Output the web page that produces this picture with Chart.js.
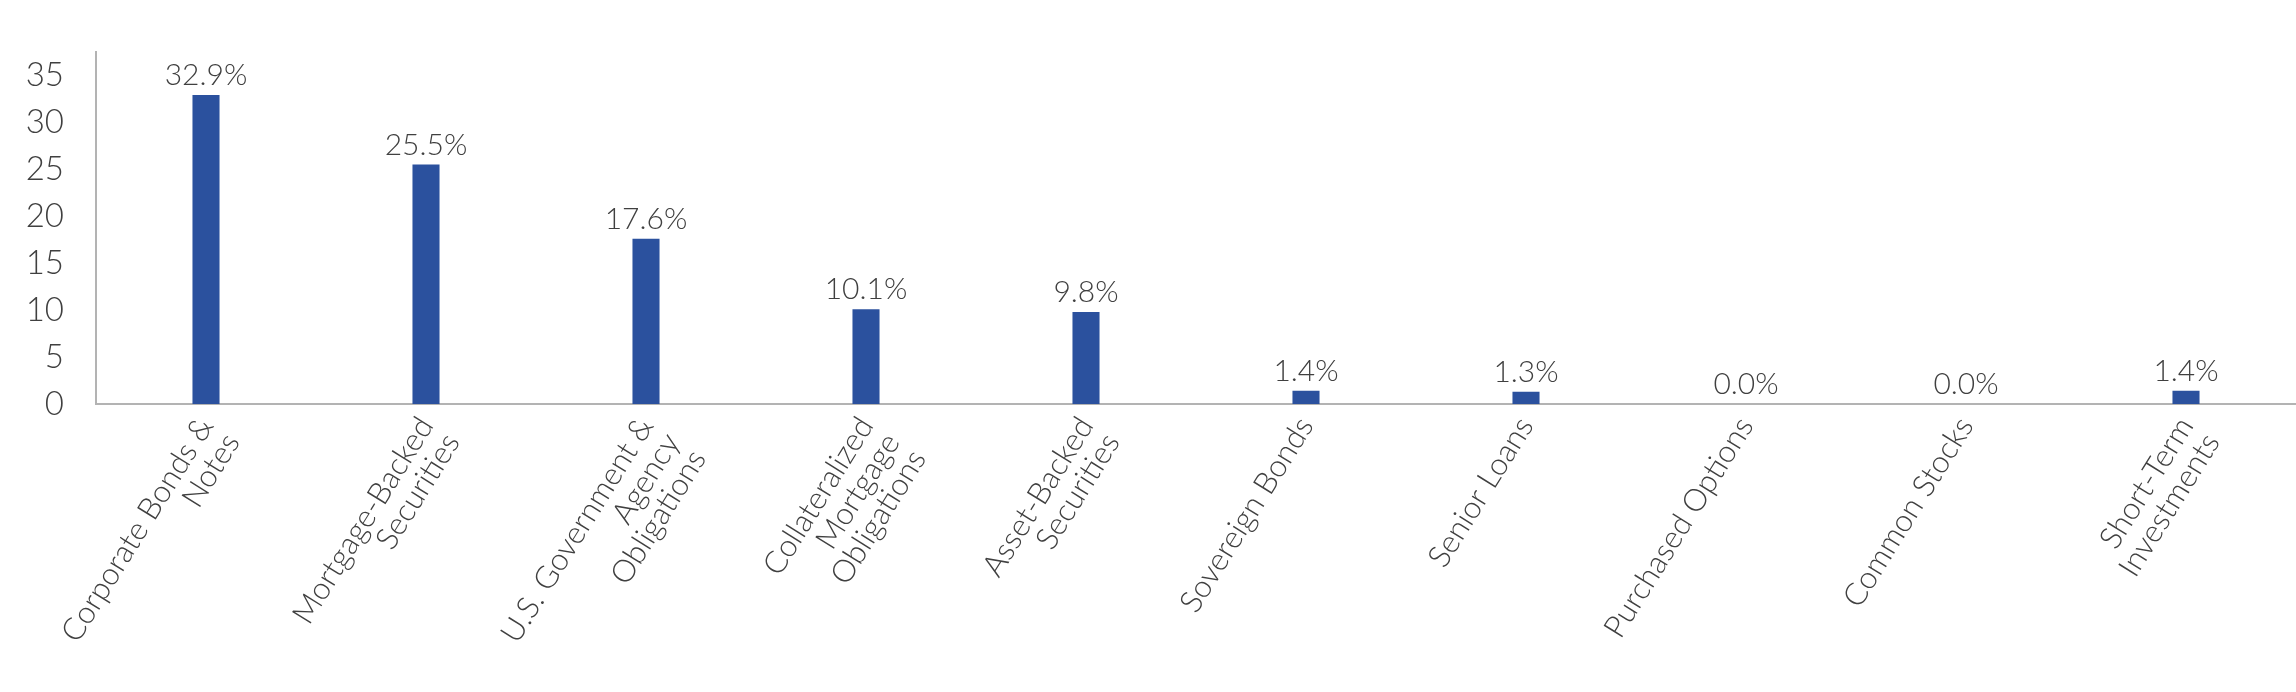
<!DOCTYPE html>
<html>
<head>
<meta charset="utf-8">
<script src="https://cdn.jsdelivr.net/npm/chart.js@4/dist/chart.umd.min.js"></script>
<style>
  html, body { margin: 0; padding: 0; background: #ffffff; }
  #wrap { width: 2296px; height: 692px; }
</style>
</head>
<body>
<div id="wrap"><canvas id="c" width="2296" height="692"></canvas></div>
<script>
const categories = [
  ["Corporate Bonds &", "Notes"],
  ["Mortgage-Backed", "Securities"],
  ["U.S. Government &", "Agency", "Obligations"],
  ["Collateralized", "Mortgage", "Obligations"],
  ["Asset-Backed", "Securities"],
  "Sovereign Bonds",
  "Senior Loans",
  "Purchased Options",
  "Common Stocks",
  ["Short-Term", "Investments"]
];
const values = [32.9, 25.5, 17.6, 10.1, 9.8, 1.4, 1.3, 0.0, 0.0, 1.4];
const yTicks = [0, 5, 10, 15, 20, 25, 30, 35];

const FONT = "Lato, 'Open Sans', sans-serif";
const TEXT = "#404040";

const barLabels = {
  id: 'barLabels',
  afterDatasetsDraw(chart) {
    const ctx = chart.ctx;
    const meta = chart.getDatasetMeta(0);
    ctx.save();
    ctx.font = "300 30px " + FONT;
    ctx.fillStyle = TEXT;
    ctx.textAlign = 'center';
    ctx.textBaseline = 'alphabetic';
    meta.data.forEach((bar, i) => {
      ctx.fillText(values[i].toFixed(1) + '%', bar.x, bar.y - 10);
    });
    ctx.restore();
  }
};

new Chart(document.getElementById('c'), {
  type: 'bar',
  data: {
    labels: categories,
    datasets: [{
      data: values,
      backgroundColor: '#2B519E',
      borderWidth: 0,
      categoryPercentage: 1,
      barPercentage: 0.123
    }]
  },
  options: {
    responsive: false,
    devicePixelRatio: 1,
    animation: false,
    layout: { padding: { top: 17, right: 0, left: 0, bottom: 0 } },
    plugins: {
      legend: { display: false },
      tooltip: { enabled: false }
    },
    scales: {
      x: {
        grid: { display: false, drawTicks: false },
        border: { display: true, color: '#b3b3b3', width: 2 },
        ticks: {
          autoSkip: false,
          maxRotation: 58,
          minRotation: 58,
          padding: 8,
          color: TEXT,
          font: { family: FONT, size: 31, weight: 300, lineHeight: 1.0 }
        },
        afterFit(scale) { scale.height = 288; }
      },
      y: {
        min: 0,
        max: 37.5,
        grid: { display: false, drawTicks: false },
        border: { display: true, color: '#b3b3b3', width: 2 },
        afterBuildTicks(scale) { scale.ticks = yTicks.map(v => ({ value: v })); },
        ticks: {
          stepSize: 5,
          padding: 32,
          color: TEXT,
          font: { family: FONT, size: 33, weight: 300 }
        },
        afterFit(scale) { scale.width = 96; }
      }
    }
  },
  plugins: [barLabels]
});
</script>
</body>
</html>
